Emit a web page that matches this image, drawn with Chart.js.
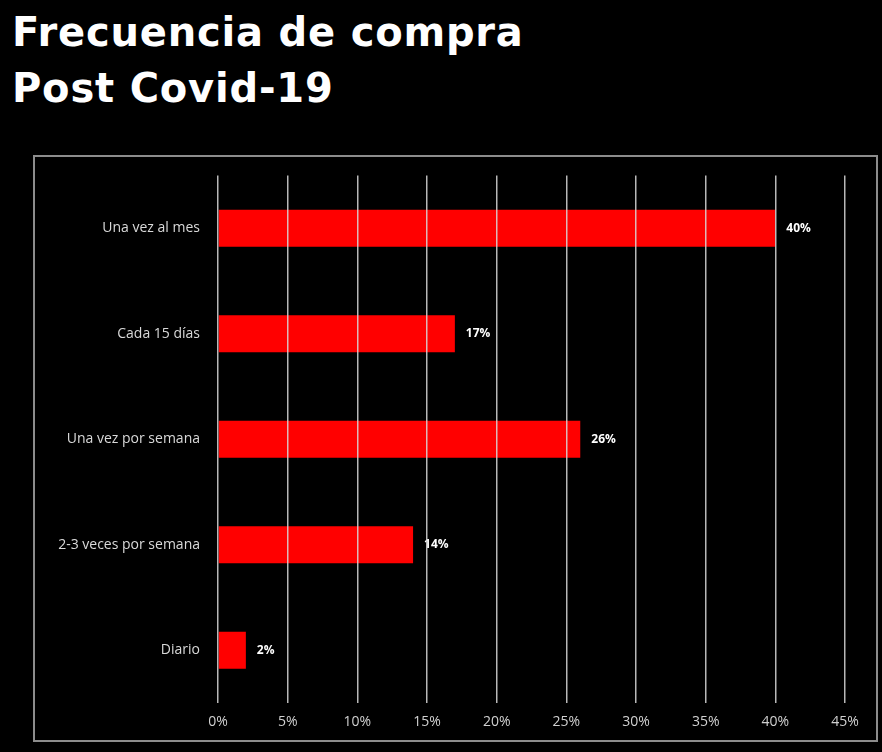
<!DOCTYPE html>
<html>
<head>
<meta charset="utf-8">
<script src="https://cdn.jsdelivr.net/npm/chart.js@4"></script>
<style>
	body { margin: 0; background: #000; width: 882px; height: 752px; overflow: hidden; position: relative; }
	#titulo { position: absolute; left: 12px; top: 4px; color: #fff; font: bold 40px "DejaVu Sans", sans-serif; line-height: 56px; letter-spacing: 0.8px; }
	#marco { position: absolute; left: 33px; top: 155px; width: 841px; height: 583px; border: 2px solid #8c8c8c; }
</style>
</head>
<body>
<div id="titulo">Frecuencia de compra<br>Post Covid-19</div>
<div id="marco"><canvas id="grafico" width="841" height="583"></canvas></div>
<script>
// datos
const categorias = ['Una vez al mes', 'Cada 15 días', 'Una vez por semana', '2-3 veces por semana', 'Diario']
const porcentajes = [40, 17, 26, 14, 2]
const ticksX = [0, 5, 10, 15, 20, 25, 30, 35, 40, 45]

document.addEventListener('DOMContentLoaded', function() {
	// Etiquetas de valor al final de cada barra
	const etiquetasValor = {
		id: 'etiquetasValor',
		afterDatasetsDraw(chart) {
			const ctx = chart.ctx
			const meta = chart.getDatasetMeta(0)
			ctx.save()
			ctx.fillStyle = '#ffffff'
			ctx.font = 'bold 12px "Open Sans", sans-serif'
			ctx.textBaseline = 'middle'
			ctx.textAlign = 'left'
			meta.data.forEach((bar, i) => {
				ctx.fillText(porcentajes[i] + '%', bar.x + 11, bar.y)
			})
			ctx.restore()
		}
	}

	const ctx = document.getElementById('grafico').getContext('2d')
	new Chart(ctx, {
		type: 'bar',
		data: {
			labels: categorias,
			datasets: [{
				data: porcentajes,
				backgroundColor: '#ff0000',
				borderWidth: 0,
				barPercentage: 0.35,
				categoryPercentage: 1,
			}]
		},
		options: {
			indexAxis: 'y',
			responsive: false,
			animation: false,
			layout: { padding: { top: 3, right: 31, left: 0, bottom: 0 } },
			plugins: {
				legend: { display: false },
				tooltip: { enabled: false },
			},
			scales: {
				x: {
					min: 0,
					max: 45,
					afterBuildTicks: scale => { scale.ticks = ticksX.map(v => ({ value: v })) },
					afterFit: scale => { scale.height = 37 },
					ticks: {
						color: '#d0d0d0',
						font: { family: '"Open Sans", sans-serif', size: 14 },
						padding: 11,
						callback: v => v + '%',
					},
					grid: { color: 'rgba(216,216,216,0.85)', lineWidth: 1.5, drawTicks: false, z: 1 },
					border: { display: false },
				},
				y: {
					afterFit: scale => { scale.width = 183 },
					ticks: {
						color: '#d9d9d9',
						font: { family: '"Open Sans", sans-serif', size: 14 },
						padding: 10,
					},
					grid: { display: false },
					border: { display: false },
				},
			},
		},
		plugins: [etiquetasValor],
	})
})
</script>
</body>
</html>
